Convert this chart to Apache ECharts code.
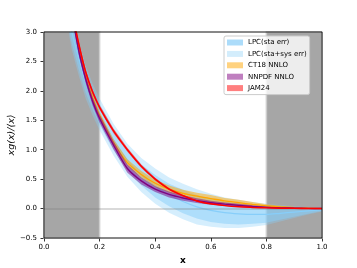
<!DOCTYPE html>
<html>
<head>
<meta charset="utf-8">
<script src="https://cdn.jsdelivr.net/npm/echarts@6/dist/echarts.min.js"></script>
<style>
html,body{margin:0;padding:0;background:#fff;}
#chart{width:357px;height:268px;}
</style>
</head>
<body>
<div id="chart"></div>
<script>
// x grid
var xs = [0.09,0.1,0.125,0.15,0.175,0.2,0.25,0.3,0.35,0.4,0.45,0.5,0.55,0.6,0.65,0.7,0.75,0.8,0.85,0.9,0.95,1.0];

// LPC
var lpcCenter = [3.25,3.0,2.55,2.15,1.85,1.6,1.17,0.82,0.57,0.38,0.23,0.12,0.03,-0.03,-0.07,-0.09,-0.1,-0.1,-0.08,-0.06,-0.04,-0.02];
var lpcStaLo = [3.05,2.8,2.36,1.96,1.67,1.42,0.99,0.64,0.39,0.19,0.04,-0.08,-0.17,-0.23,-0.26,-0.27,-0.26,-0.24,-0.19,-0.14,-0.09,-0.04];
var lpcStaHi = [3.45,3.2,2.74,2.34,2.03,1.78,1.35,1.0,0.75,0.57,0.42,0.32,0.23,0.17,0.12,0.09,0.06,0.04,0.03,0.02,0.01,0.0];
var lpcSysLo = [2.95,2.7,2.26,1.87,1.58,1.33,0.9,0.54,0.28,0.08,-0.07,-0.18,-0.27,-0.31,-0.33,-0.33,-0.31,-0.28,-0.22,-0.16,-0.10,-0.05];
var lpcSysHi = [3.55,3.3,2.84,2.43,2.12,1.87,1.44,1.1,0.86,0.68,0.53,0.42,0.33,0.25,0.19,0.15,0.11,0.08,0.06,0.04,0.02,0.01];

// CT18 NNLO
var ctCenter = [3.7,3.36,2.74,2.25,1.88,1.58,1.12,0.78,0.58,0.43,0.33,0.26,0.21,0.17,0.13,0.1,0.07,0.045,0.028,0.016,0.007,0.0];
var ctLo = [3.63,3.29,2.68,2.19,1.82,1.52,1.06,0.72,0.52,0.37,0.27,0.2,0.15,0.11,0.08,0.05,0.03,0.015,0.008,0.001,-0.003,-0.005];
var ctHi = [3.77,3.43,2.8,2.31,1.94,1.64,1.18,0.84,0.64,0.49,0.39,0.32,0.27,0.23,0.18,0.15,0.11,0.075,0.048,0.031,0.017,0.005];

// NNPDF NNLO
var nnCenter = [3.75,3.35,2.68,2.2,1.82,1.53,1.08,0.68,0.47,0.33,0.24,0.18,0.135,0.1,0.075,0.055,0.035,0.02,0.012,0.007,0.003,0.0];
var nnLo = [3.68,3.28,2.61,2.13,1.75,1.46,1.01,0.61,0.41,0.28,0.19,0.135,0.095,0.065,0.045,0.03,0.015,0.005,0.0,-0.003,-0.005,-0.005];
var nnHi = [3.82,3.42,2.75,2.27,1.89,1.6,1.15,0.75,0.53,0.38,0.29,0.225,0.175,0.135,0.105,0.08,0.055,0.035,0.024,0.017,0.011,0.005];

// JAM24
var jamCenter = [3.65,3.38,2.8,2.32,1.98,1.72,1.32,1.0,0.72,0.5,0.33,0.22,0.13,0.08,0.05,0.03,0.02,0.012,0.007,0.004,0.002,0.0];
var jamLo = [3.61,3.34,2.76,2.28,1.94,1.68,1.28,0.965,0.69,0.475,0.31,0.205,0.12,0.07,0.043,0.025,0.015,0.008,0.004,0.001,0.0,-0.003];
var jamHi = [3.69,3.42,2.84,2.36,2.02,1.76,1.36,1.035,0.75,0.525,0.35,0.235,0.14,0.09,0.057,0.035,0.025,0.016,0.01,0.007,0.004,0.003];

var shadedRanges = [[0, 0.2], [0.8, 1.0]];
var legendNames = ['LPC(sta err)', 'LPC(sta+sys err)', 'CT18 NNLO', 'NNPDF NNLO', 'JAM24'];

function pts(arr) { return xs.map(function (x, i) { return [x, arr[i]]; }); }

function band(name, lo, hi, color, zz) {
  return {
    name: name, type: 'custom', coordinateSystem: 'cartesian2d', clip: true, silent: true, z: zz,
    data: [[xs[0], hi[0]]],
    encode: { x: 0, y: 1 },
    color: color,
    renderItem: function (params, api) {
      var p = [];
      for (var i = 0; i < xs.length; i++) p.push(api.coord([xs[i], hi[i]]));
      for (var j = xs.length - 1; j >= 0; j--) p.push(api.coord([xs[j], lo[j]]));
      return { type: 'polygon', shape: { points: p }, style: { fill: color, stroke: null } };
    }
  };
}
function line(key, arr, color, w, zz) {
  return { name: key, type: 'line', data: pts(arr), smooth: 0.25, symbol: 'none',
    lineStyle: { color: color, width: w }, silent: true, z: zz };
}

var series = [];
// gray shaded regions
series.push({
  name: '_shade', type: 'line', data: [], silent: true, z: 1,
  markArea: {
    silent: true,
    itemStyle: { color: '#a6a6a6', borderColor: '#cdcdcd', borderWidth: 1.5 },
    data: shadedRanges.map(function (r) { return [{ xAxis: r[0], yAxis: -0.5 }, { xAxis: r[1], yAxis: 3.0 }]; })
  }
});
series.push(band('LPC(sta+sys err)', lpcSysLo, lpcSysHi, 'rgba(135,206,250,0.35)', 2));
series.push(band('LPC(sta err)', lpcStaLo, lpcStaHi, 'rgba(135,206,250,0.5)', 3));
series.push(line('_lpcc', lpcCenter, '#87cefa', 1.2, 4));
series.push(band('CT18 NNLO', ctLo, ctHi, 'rgba(255,165,0,0.5)', 5));
series.push(line('_ctc', ctCenter, '#ffa500', 1.3, 6));
series.push(band('NNPDF NNLO', nnLo, nnHi, 'rgba(128,0,128,0.5)', 7));
series.push(line('_nnc', nnCenter, '#800080', 1.4, 8));
series.push(band('JAM24', jamLo, jamHi, 'rgba(255,0,0,0.5)', 9));
series.push(line('_jamc', jamCenter, '#ff0000', 1.5, 10));
// zero line
series.push({
  name: '_zero', type: 'line', data: [], silent: true, z: 11,
  markLine: { silent: true, symbol: 'none', label: { show: false },
    lineStyle: { color: 'rgba(128,128,128,0.4)', width: 1.5, type: 'solid' },
    data: [{ yAxis: 0 }] }
});

var legendColors = {
  'LPC(sta err)': '#acdcfa',
  'LPC(sta+sys err)': '#d3edfc',
  'CT18 NNLO': '#ffd27f',
  'NNPDF NNLO': '#bf7fbf',
  'JAM24': '#ff7f7f'
};

var chart = echarts.init(document.getElementById('chart'), null, { renderer: 'canvas' });
chart.setOption({
  animation: false,
  backgroundColor: '#ffffff',
  grid: { left: 44, right: 35, top: 32, bottom: 30, containLabel: false, outerBoundsMode: 'none',
    show: true, borderColor: '#111', borderWidth: 1, backgroundColor: 'transparent', z: 20 },
  legend: {
    orient: 'vertical', left: 224, top: 36,
    icon: 'rect', itemWidth: 16, itemHeight: 6, itemGap: 2.4, itemTextGap: 6.6,
    padding: [2, 3, 2, 3],
    backgroundColor: 'rgba(255,255,255,0.8)', borderColor: '#cccccc', borderWidth: 1, borderRadius: 2,
    textStyle: { fontFamily: 'DejaVu Sans', fontSize: 7, color: '#000', lineHeight: 9 },
    selectedMode: false,
    data: legendNames.map(function (n) { return { name: n, itemStyle: { color: legendColors[n] } }; })
  },
  xAxis: {
    type: 'value', min: 0, max: 1, interval: 0.2,
    name: 'x', nameLocation: 'middle', nameGap: 18, nameMoveOverlap: false,
    nameTextStyle: { fontFamily: 'DejaVu Sans', fontSize: 9, fontWeight: 'bold', color: '#000' },
    axisLine: { show: false, onZero: false },
    axisTick: { show: true, length: 3.5, lineStyle: { color: '#000', width: 0.8 } },
    axisLabel: { fontFamily: 'DejaVu Sans', fontSize: 7, color: '#000', margin: 6,
      formatter: function (v) { return v.toFixed(1); } },
    splitLine: { show: false }
  },
  yAxis: {
    type: 'value', min: -0.5, max: 3.0, interval: 0.5,
    name: 'xg(x)/\u27E8x\u27E9', nameLocation: 'middle', nameGap: 27, nameRotate: 90, nameMoveOverlap: false,
    nameTextStyle: { fontFamily: 'DejaVu Sans', fontSize: 9.5, fontStyle: 'italic', color: '#000' },
    axisLine: { show: false, onZero: false },
    axisTick: { show: true, length: 3.5, lineStyle: { color: '#000', width: 0.8 } },
    axisLabel: { fontFamily: 'DejaVu Sans', fontSize: 7, color: '#000', margin: 7,
      formatter: function (v) { var s = Math.abs(v).toFixed(1); return v < 0 ? '\u2212' + s : s; } },
    splitLine: { show: false }
  },
  series: series
});
</script>
</body>
</html>
